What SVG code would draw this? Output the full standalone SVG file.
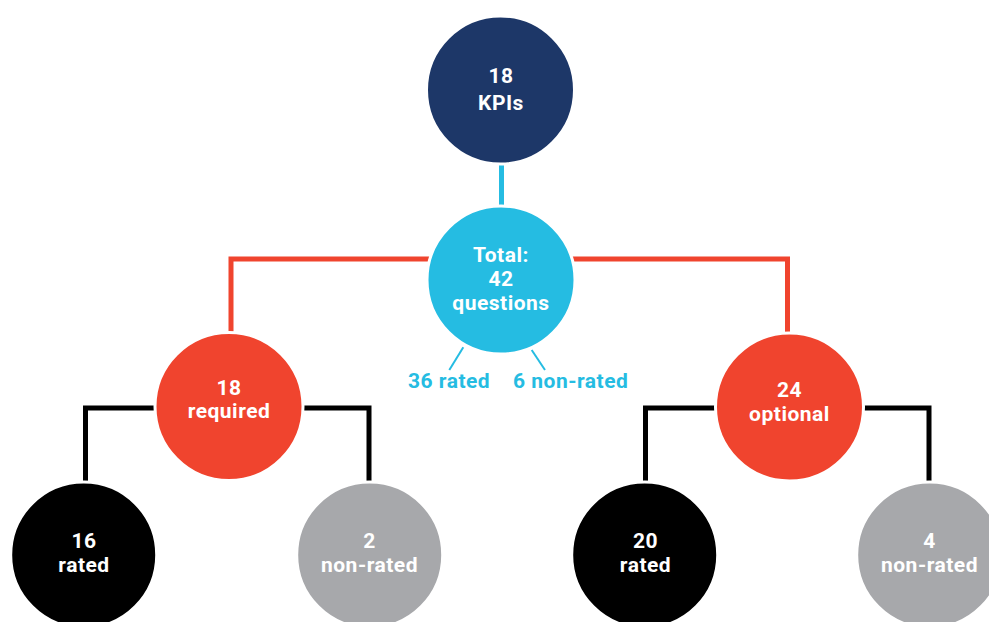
<svg xmlns="http://www.w3.org/2000/svg" width="989" height="622" viewBox="0 0 989 622">
<style>
.node circle{stroke:#fff;stroke-width:3}
.t{font-family:Roboto,"Liberation Sans",sans-serif;font-weight:bold;font-size:21px;letter-spacing:0.5px;fill:#fff;text-anchor:middle}
.lbl{font-family:Roboto,"Liberation Sans",sans-serif;font-weight:bold;font-size:21px;letter-spacing:0.5px;fill:#25bce2}
.red{stroke:#f0442e;stroke-width:5;fill:none}
.blk{stroke:#000;stroke-width:5;fill:none}
.cy{stroke:#25bce2;stroke-width:5;fill:none}
.cyt{stroke:#25bce2;stroke-width:2;fill:none}
</style>
<rect width="989" height="622" fill="#fff"/>
<g id="connectors">
<line class="cy" x1="501.5" y1="160" x2="501.5" y2="210"/>
<polyline class="red" points="231,335 231,259 501,259"/>
<polyline class="red" points="787.5,335 787.5,259 501,259"/>
<polyline class="blk" points="85.5,484 85.5,408 230,408"/>
<polyline class="blk" points="369,484 369,408 230,408"/>
<polyline class="blk" points="645.5,484 645.5,408 789,408"/>
<polyline class="blk" points="929,484 929,408 789,408"/>
<line class="cyt" x1="463.3" y1="347.3" x2="449.3" y2="370"/>
<line class="cyt" x1="531.7" y1="350" x2="545" y2="370"/>
</g>
<g id="kpis" class="node"><circle cx="500.5" cy="90" r="74" fill="#1d3768"/><text class="t" x="501" y="83">18</text><text class="t" x="501" y="110">KPIs</text></g>
<g id="total" class="node"><circle cx="501" cy="280" r="74" fill="#25bce2"/><text class="t" x="501" y="262">Total:</text><text class="t" x="501" y="286">42</text><text class="t" x="501" y="310">questions</text></g>
<g id="labels"><text class="lbl" x="408" y="388">36 rated</text><text class="lbl" x="513" y="388">6 non-rated</text></g>
<g id="required" class="node"><circle cx="229" cy="406.5" r="74" fill="#f0442e"/><text class="t" x="229" y="395">18</text><text class="t" x="229" y="418">required</text></g>
<g id="optional" class="node"><circle cx="789.5" cy="407" r="74" fill="#f0442e"/><text class="t" x="789.5" y="397">24</text><text class="t" x="789.5" y="421">optional</text></g>
<g id="rated16" class="node"><circle cx="83.7" cy="555" r="73" fill="#000"/><text class="t" x="84" y="548">16</text><text class="t" x="84" y="572">rated</text></g>
<g id="nonrated2" class="node"><circle cx="369.7" cy="555" r="73" fill="#a7a8ab"/><text class="t" x="369.5" y="548">2</text><text class="t" x="369.5" y="572">non-rated</text></g>
<g id="rated20" class="node"><circle cx="644.7" cy="555" r="73" fill="#000"/><text class="t" x="645.5" y="548">20</text><text class="t" x="645.5" y="572">rated</text></g>
<g id="nonrated4" class="node"><circle cx="929.7" cy="555" r="73" fill="#a7a8ab"/><text class="t" x="929.5" y="548">4</text><text class="t" x="929.5" y="572">non-rated</text></g>
</svg>
